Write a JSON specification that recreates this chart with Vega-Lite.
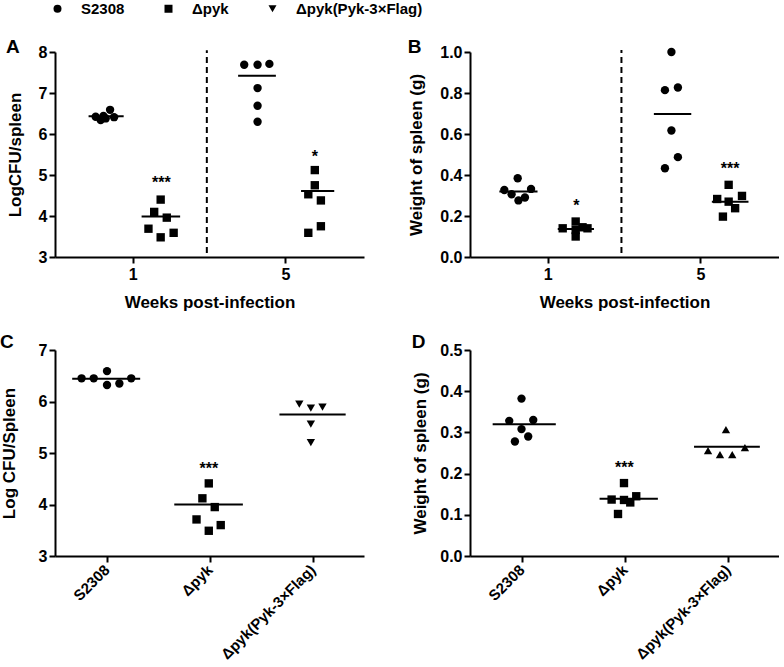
{
  "$schema": "https://vega.github.io/schema/vega-lite/v6.json",
  "padding": {"left": 0, "top": 1, "right": 0, "bottom": 0},
  "background": "white",
  "config": {
    "view": {"stroke": null},
    "font": "Liberation Sans",
    "axis": {
      "labelFont": "Liberation Sans", "labelFontWeight": "bold", "labelFontSize": 16, "labelColor": "black",
      "titleFont": "Liberation Sans", "titleFontWeight": "bold", "titleFontSize": 17, "titleColor": "black",
      "domainColor": "black", "domainWidth": 2, "tickColor": "black", "tickWidth": 2, "tickSize": 6,
      "grid": false, "labelPadding": 2, "labelFlush": false, "labelOverlap": false
    },
    "legend": {"orient": "none", "legendX": -5, "legendY": -51, "direction": "horizontal", "title": null,
      "labelFont": "Liberation Sans", "labelFontWeight": "bold", "labelFontSize": 15, "labelColor": "black",
      "symbolSize": 64, "symbolFillColor": "black", "symbolStrokeColor": "black", "symbolStrokeWidth": 0,
      "labelOffset": 16, "columnPadding": 36, "padding": 0},
    "title": {"font": "Liberation Sans", "fontSize": 19, "fontWeight": "bold", "color": "black", "anchor": "start", "frame": "bounds", "offset": 0}
  },
  "datasets": {
    "points": [
      {"panel": "A", "strain": "S2308", "x": 0.026, "y": 6.42},
      {"panel": "A", "strain": "S2308", "x": 0.157, "y": 6.34},
      {"panel": "A", "strain": "S2308", "x": 0.289, "y": 6.38},
      {"panel": "A", "strain": "S2308", "x": 0.404, "y": 6.59},
      {"panel": "A", "strain": "S2308", "x": 0.509, "y": 6.41},
      {"panel": "A", "strain": "S2308", "x": 0.23, "y": 6.44},
      {"panel": "A", "strain": "Δpyk", "x": 1.73, "y": 4.40},
      {"panel": "A", "strain": "Δpyk", "x": 1.56, "y": 4.10},
      {"panel": "A", "strain": "Δpyk", "x": 1.89, "y": 3.96},
      {"panel": "A", "strain": "Δpyk", "x": 1.41, "y": 3.69},
      {"panel": "A", "strain": "Δpyk", "x": 1.73, "y": 3.48},
      {"panel": "A", "strain": "Δpyk", "x": 2.07, "y": 3.59},
      {"panel": "A", "strain": "S2308", "x": 3.92, "y": 7.69},
      {"panel": "A", "strain": "S2308", "x": 4.27, "y": 7.69},
      {"panel": "A", "strain": "S2308", "x": 4.58, "y": 7.71},
      {"panel": "A", "strain": "S2308", "x": 4.27, "y": 7.12},
      {"panel": "A", "strain": "S2308", "x": 4.27, "y": 6.69},
      {"panel": "A", "strain": "S2308", "x": 4.27, "y": 6.30},
      {"panel": "A", "strain": "Δpyk", "x": 5.77, "y": 5.12},
      {"panel": "A", "strain": "Δpyk", "x": 5.77, "y": 4.75},
      {"panel": "A", "strain": "Δpyk", "x": 5.60, "y": 4.53},
      {"panel": "A", "strain": "Δpyk", "x": 5.93, "y": 4.38},
      {"panel": "A", "strain": "Δpyk", "x": 5.60, "y": 3.59},
      {"panel": "A", "strain": "Δpyk", "x": 5.93, "y": 3.75},
      {"panel": "B", "strain": "S2308", "x": 0.21, "y": 0.384},
      {"panel": "B", "strain": "S2308", "x": -0.14, "y": 0.327},
      {"panel": "B", "strain": "S2308", "x": 0.05, "y": 0.306},
      {"panel": "B", "strain": "S2308", "x": 0.56, "y": 0.332},
      {"panel": "B", "strain": "S2308", "x": 0.23, "y": 0.276},
      {"panel": "B", "strain": "S2308", "x": 0.40, "y": 0.290},
      {"panel": "B", "strain": "Δpyk", "x": 1.73, "y": 0.173},
      {"panel": "B", "strain": "Δpyk", "x": 1.39, "y": 0.140},
      {"panel": "B", "strain": "Δpyk", "x": 1.73, "y": 0.132},
      {"panel": "B", "strain": "Δpyk", "x": 2.04, "y": 0.140},
      {"panel": "B", "strain": "Δpyk", "x": 1.73, "y": 0.100},
      {"panel": "B", "strain": "Δpyk", "x": 1.91, "y": 0.145},
      {"panel": "B", "strain": "S2308", "x": 4.24, "y": 1.0},
      {"panel": "B", "strain": "S2308", "x": 4.07, "y": 0.814},
      {"panel": "B", "strain": "S2308", "x": 4.41, "y": 0.827},
      {"panel": "B", "strain": "S2308", "x": 4.24, "y": 0.617},
      {"panel": "B", "strain": "S2308", "x": 4.41, "y": 0.487},
      {"panel": "B", "strain": "S2308", "x": 4.07, "y": 0.433},
      {"panel": "B", "strain": "Δpyk", "x": 5.74, "y": 0.352},
      {"panel": "B", "strain": "Δpyk", "x": 5.44, "y": 0.283},
      {"panel": "B", "strain": "Δpyk", "x": 6.09, "y": 0.298},
      {"panel": "B", "strain": "Δpyk", "x": 5.74, "y": 0.270},
      {"panel": "B", "strain": "Δpyk", "x": 5.91, "y": 0.238},
      {"panel": "B", "strain": "Δpyk", "x": 5.59, "y": 0.197},
      {"panel": "C", "strain": "S2308", "x": -0.242, "y": 6.45},
      {"panel": "C", "strain": "S2308", "x": -0.124, "y": 6.45},
      {"panel": "C", "strain": "S2308", "x": 0.005, "y": 6.59},
      {"panel": "C", "strain": "S2308", "x": 0.005, "y": 6.32},
      {"panel": "C", "strain": "S2308", "x": 0.125, "y": 6.35},
      {"panel": "C", "strain": "S2308", "x": 0.24, "y": 6.45},
      {"panel": "C", "strain": "Δpyk", "x": 0.993, "y": 4.41},
      {"panel": "C", "strain": "Δpyk", "x": 0.931, "y": 4.12},
      {"panel": "C", "strain": "Δpyk", "x": 1.051, "y": 3.95},
      {"panel": "C", "strain": "Δpyk", "x": 0.874, "y": 3.71},
      {"panel": "C", "strain": "Δpyk", "x": 0.993, "y": 3.49},
      {"panel": "C", "strain": "Δpyk", "x": 1.109, "y": 3.60},
      {"panel": "C", "strain": "Δpyk(Pyk-3×Flag)", "x": 1.872, "y": 5.95},
      {"panel": "C", "strain": "Δpyk(Pyk-3×Flag)", "x": 1.984, "y": 5.87},
      {"panel": "C", "strain": "Δpyk(Pyk-3×Flag)", "x": 2.097, "y": 5.89},
      {"panel": "C", "strain": "Δpyk(Pyk-3×Flag)", "x": 1.984, "y": 5.56},
      {"panel": "C", "strain": "Δpyk(Pyk-3×Flag)", "x": 1.984, "y": 5.20},
      {"panel": "D", "strain": "S2308", "x": 0.0, "y": 0.382},
      {"panel": "D", "strain": "S2308", "x": -0.119, "y": 0.328},
      {"panel": "D", "strain": "S2308", "x": 0.114, "y": 0.330},
      {"panel": "D", "strain": "S2308", "x": 0.0, "y": 0.308},
      {"panel": "D", "strain": "S2308", "x": 0.065, "y": 0.290},
      {"panel": "D", "strain": "S2308", "x": -0.064, "y": 0.278},
      {"panel": "D", "strain": "Δpyk", "x": 0.995, "y": 0.177},
      {"panel": "D", "strain": "Δpyk", "x": 0.875, "y": 0.137},
      {"panel": "D", "strain": "Δpyk", "x": 0.995, "y": 0.136},
      {"panel": "D", "strain": "Δpyk", "x": 1.056, "y": 0.130},
      {"panel": "D", "strain": "Δpyk", "x": 1.114, "y": 0.145},
      {"panel": "D", "strain": "Δpyk", "x": 0.937, "y": 0.102},
      {"panel": "D", "strain": "Δpyk(Pyk-3×Flag)", "x": 1.985, "y": 0.307},
      {"panel": "D", "strain": "Δpyk(Pyk-3×Flag)", "x": 1.811, "y": 0.256},
      {"panel": "D", "strain": "Δpyk(Pyk-3×Flag)", "x": 1.927, "y": 0.246},
      {"panel": "D", "strain": "Δpyk(Pyk-3×Flag)", "x": 2.046, "y": 0.246},
      {"panel": "D", "strain": "Δpyk(Pyk-3×Flag)", "x": 2.169, "y": 0.263}
    ],
    "means": [
      {"panel": "A", "x": -0.16, "xend": 0.76, "y": 6.43},
      {"panel": "A", "x": 1.23, "xend": 2.24, "y": 3.99},
      {"panel": "A", "x": 3.76, "xend": 4.75, "y": 7.42},
      {"panel": "A", "x": 5.41, "xend": 6.28, "y": 4.61},
      {"panel": "B", "x": -0.27, "xend": 0.73, "y": 0.319},
      {"panel": "B", "x": 1.26, "xend": 2.21, "y": 0.137},
      {"panel": "B", "x": 3.78, "xend": 4.76, "y": 0.697},
      {"panel": "B", "x": 5.30, "xend": 6.26, "y": 0.270},
      {"panel": "C", "x": -0.333, "xend": 0.327, "y": 6.44},
      {"panel": "C", "x": 0.658, "xend": 1.324, "y": 4.00},
      {"panel": "C", "x": 1.679, "xend": 2.322, "y": 5.75},
      {"panel": "D", "x": -0.28, "xend": 0.333, "y": 0.320},
      {"panel": "D", "x": 0.758, "xend": 1.324, "y": 0.139},
      {"panel": "D", "x": 1.675, "xend": 2.314, "y": 0.265}
    ],
    "stars": [
      {"panel": "A", "x": 1.75, "y": 4.80, "label": "***"},
      {"panel": "A", "x": 5.77, "y": 5.45, "label": "*"},
      {"panel": "B", "x": 1.75, "y": 0.251, "label": "*"},
      {"panel": "B", "x": 5.78, "y": 0.427, "label": "***"},
      {"panel": "C", "x": 0.993, "y": 4.69, "label": "***"},
      {"panel": "D", "x": 0.998, "y": 0.213, "label": "***"}
    ],
    "dividers": [
      {"panel": "A", "x": 2.94, "y": 3.1, "yend": 8.04},
      {"panel": "B", "x": 2.93, "y": 0.02, "yend": 1.01}
    ]
  },
  "columns": 2,
  "spacing": {"row": 93, "column": 106},
  "bounds": "flush",
  "resolve": {"scale": {"shape": "shared"}, "legend": {"shape": "shared"}},
  "concat": [
    {
      "width": 309, "height": 205,
      "title": {"text": "A", "dy": 17},
      "encoding": {
        "x": {"field": "x", "type": "quantitative", "scale": {"domain": [-1.04, 7.06], "nice": false, "zero": false},
              "axis": {"values": [1, 5], "title": "Weeks post-infection", "titlePadding": 12, "labelPadding": 3}},
        "y": {"field": "y", "type": "quantitative", "scale": {"domain": [3, 8], "nice": false, "zero": false},
              "axis": {"values": [3, 4, 5, 6, 7, 8], "format": "d", "title": "LogCFU/spleen", "titlePadding": 14}}
      },
      "layer": [
        {"data": {"name": "dividers"}, "transform": [{"filter": "datum.panel == 'A'"}],
         "mark": {"type": "rule", "strokeDash": [6, 4], "strokeWidth": 2, "color": "black"},
         "encoding": {"y2": {"field": "yend"}}},
        {"data": {"name": "means"}, "transform": [{"filter": "datum.panel == 'A'"}],
         "mark": {"type": "rule", "strokeWidth": 2, "color": "black"},
         "encoding": {"x2": {"field": "xend"}}},
        {"data": {"name": "points"}, "transform": [{"filter": "datum.panel == 'A'"}],
         "mark": {"type": "point", "filled": true, "color": "black", "opacity": 1, "size": 70},
         "encoding": {
           "shape": {"field": "strain", "type": "nominal",
             "scale": {"domain": ["S2308", "Δpyk", "Δpyk(Pyk-3×Flag)"], "range": ["circle", "square", "triangle-down"]}}
         }},
        {"data": {"name": "stars"}, "transform": [{"filter": "datum.panel == 'A'"}],
         "mark": {"type": "text", "fontSize": 16, "fontWeight": "bold", "font": "Liberation Sans", "baseline": "middle", "color": "black"},
         "encoding": {"text": {"field": "label"}}}
      ]
    },
    {
      "width": 309, "height": 205,
      "title": {"text": "B", "dy": 17},
      "encoding": {
        "x": {"field": "x", "type": "quantitative", "scale": {"domain": [-1.04, 7.06], "nice": false, "zero": false},
              "axis": {"values": [1, 5], "title": "Weeks post-infection", "titlePadding": 12, "labelPadding": 3}},
        "y": {"field": "y", "type": "quantitative", "scale": {"domain": [0, 1], "nice": false, "zero": false},
              "axis": {"values": [0, 0.2, 0.4, 0.6, 0.8, 1.0], "format": ".1f", "title": "Weight of spleen (g)", "titlePadding": 14}}
      },
      "layer": [
        {"data": {"name": "dividers"}, "transform": [{"filter": "datum.panel == 'B'"}],
         "mark": {"type": "rule", "strokeDash": [6, 4], "strokeWidth": 2, "color": "black"},
         "encoding": {"y2": {"field": "yend"}}},
        {"data": {"name": "means"}, "transform": [{"filter": "datum.panel == 'B'"}],
         "mark": {"type": "rule", "strokeWidth": 2, "color": "black"},
         "encoding": {"x2": {"field": "xend"}}},
        {"data": {"name": "points"}, "transform": [{"filter": "datum.panel == 'B'"}],
         "mark": {"type": "point", "filled": true, "color": "black", "opacity": 1, "size": 70},
         "encoding": {
           "shape": {"field": "strain", "type": "nominal",
             "scale": {"domain": ["S2308", "Δpyk", "Δpyk(Pyk-3×Flag)"], "range": ["circle", "square", "triangle-down"]}}
         }},
        {"data": {"name": "stars"}, "transform": [{"filter": "datum.panel == 'B'"}],
         "mark": {"type": "text", "fontSize": 16, "fontWeight": "bold", "font": "Liberation Sans", "baseline": "middle", "color": "black"},
         "encoding": {"text": {"field": "label"}}}
      ]
    },
    {
      "width": 309, "height": 206,
      "title": {"text": "C", "dy": 14},
      "encoding": {
        "x": {"field": "x", "type": "quantitative", "scale": {"domain": [-0.5, 2.5], "nice": false, "zero": false},
              "axis": {"values": [0, 1, 2], "title": null, "labelExpr": "datum.value == 0 ? 'S2308' : datum.value == 1 ? 'Δpyk' : 'Δpyk(Pyk-3×Flag)'", "labelAngle": -45, "labelAlign": "right", "labelBaseline": "middle", "labelFontSize": 15, "labelPadding": 5}},
        "y": {"field": "y", "type": "quantitative", "scale": {"domain": [3, 7], "nice": false, "zero": false},
              "axis": {"values": [3, 4, 5, 6, 7], "format": "d", "title": "Log CFU/Spleen", "titlePadding": 20}}
      },
      "layer": [
        {"data": {"name": "means"}, "transform": [{"filter": "datum.panel == 'C'"}],
         "mark": {"type": "rule", "strokeWidth": 2, "color": "black"},
         "encoding": {"x2": {"field": "xend"}}},
        {"data": {"name": "points"}, "transform": [{"filter": "datum.panel == 'C'"}],
         "mark": {"type": "point", "filled": true, "color": "black", "opacity": 1, "size": 70},
         "encoding": {
           "shape": {"field": "strain", "type": "nominal",
             "scale": {"domain": ["S2308", "Δpyk", "Δpyk(Pyk-3×Flag)"], "range": ["circle", "square", "triangle-down"]}}
         }},
        {"data": {"name": "stars"}, "transform": [{"filter": "datum.panel == 'C'"}],
         "mark": {"type": "text", "fontSize": 16, "fontWeight": "bold", "font": "Liberation Sans", "baseline": "middle", "color": "black"},
         "encoding": {"text": {"field": "label"}}}
      ]
    },
    {
      "width": 309, "height": 206,
      "title": {"text": "D", "dy": 14},
      "encoding": {
        "x": {"field": "x", "type": "quantitative", "scale": {"domain": [-0.5, 2.5], "nice": false, "zero": false},
              "axis": {"values": [0, 1, 2], "title": null, "labelExpr": "datum.value == 0 ? 'S2308' : datum.value == 1 ? 'Δpyk' : 'Δpyk(Pyk-3×Flag)'", "labelAngle": -45, "labelAlign": "right", "labelBaseline": "middle", "labelFontSize": 15, "labelPadding": 5}},
        "y": {"field": "y", "type": "quantitative", "scale": {"domain": [0, 0.5], "nice": false, "zero": false},
              "axis": {"values": [0, 0.1, 0.2, 0.3, 0.4, 0.5], "format": ".1f", "title": "Weight of spleen (g)", "titlePadding": 10}}
      },
      "layer": [
        {"data": {"name": "means"}, "transform": [{"filter": "datum.panel == 'D'"}],
         "mark": {"type": "rule", "strokeWidth": 2, "color": "black"},
         "encoding": {"x2": {"field": "xend"}}},
        {"data": {"name": "points"}, "transform": [{"filter": "datum.panel == 'D'"}],
         "mark": {"type": "point", "filled": true, "color": "black", "opacity": 1, "size": 70},
         "encoding": {
           "shape": {"condition": {"test": "datum.strain == 'Δpyk(Pyk-3×Flag)'", "value": "triangle-up"},
             "field": "strain", "type": "nominal",
             "scale": {"domain": ["S2308", "Δpyk", "Δpyk(Pyk-3×Flag)"], "range": ["circle", "square", "triangle-down"]}}
         }},
        {"data": {"name": "stars"}, "transform": [{"filter": "datum.panel == 'D'"}],
         "mark": {"type": "text", "fontSize": 16, "fontWeight": "bold", "font": "Liberation Sans", "baseline": "middle", "color": "black"},
         "encoding": {"text": {"field": "label"}}}
      ]
    }
  ]
}
